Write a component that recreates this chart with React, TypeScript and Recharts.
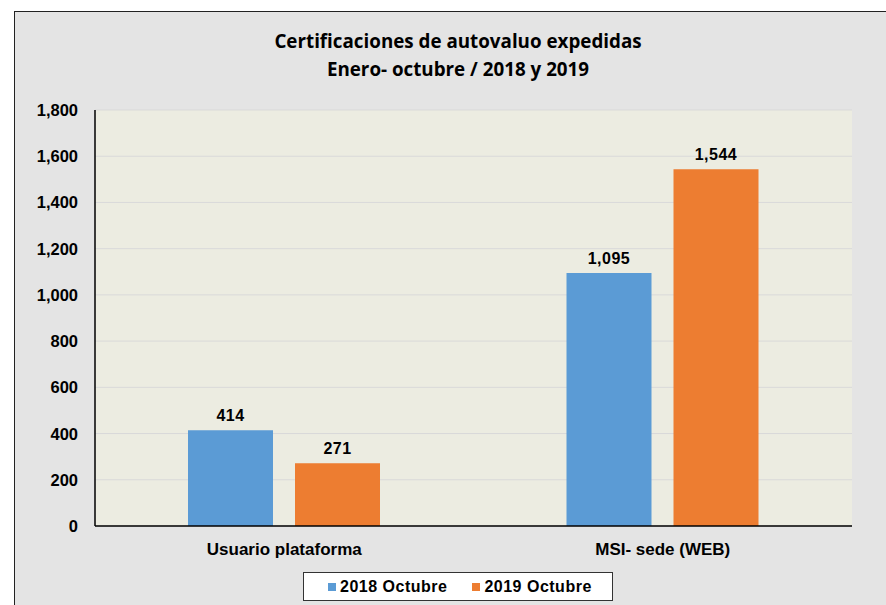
import React from "react";
import { BarChart, Bar, XAxis, YAxis, CartesianGrid, Legend, LabelList } from "recharts";

const categories = ["Usuario plataforma", "MSI- sede (WEB)"];
const series2018 = [414, 1095];
const series2019 = [271, 1544];
const yTicks = [0, 200, 400, 600, 800, 1000, 1200, 1400, 1600, 1800];
const seriesNames = ["2018 Octubre", "2019 Octubre"];
const titleLines = ["Certificaciones de autovaluo expedidas", "Enero- octubre / 2018 y 2019"];

const data = categories.map((c, i) => ({ name: c, a: series2018[i], b: series2019[i] }));

const fmt = (v: number) => v.toLocaleString("en-US");
const BLUE = "#5b9bd5";
const ORANGE = "#ed7d31";
const FONT = "'Liberation Sans', Arial, sans-serif";

const LegendBox = () => (
  <div
    style={{
      position: "absolute",
      left: 288,
      top: 2,
      width: 308,
      height: 27,
      background: "#ffffff",
      border: "1px solid #333",
      display: "flex",
      alignItems: "center",
      fontFamily: FONT,
      fontWeight: 700,
      fontSize: 16,
      letterSpacing: 0.5,
      color: "#000",
    }}
  >
    <span style={{ display: "inline-block", width: 8, height: 8, background: BLUE, marginLeft: 24, marginRight: 4 }} />
    <span>{seriesNames[0]}</span>
    <span style={{ display: "inline-block", width: 8, height: 8, background: ORANGE, marginLeft: 25, marginRight: 4 }} />
    <span>{seriesNames[1]}</span>
  </div>
);

const XTick = (props: any) => {
  const { x, y, payload } = props;
  return (
    <text
      x={x}
      y={y + 29}
      textAnchor="middle"
      fill="#000"
      fontFamily={FONT}
      fontWeight={700}
      fontSize={17}
    >
      {payload.value}
    </text>
  );
};

const YTick = (props: any) => {
  const { x, y, payload } = props;
  return (
    <text
      x={x - 17}
      y={y + 6}
      textAnchor="end"
      fill="#000"
      fontFamily={FONT}
      fontWeight={700}
      fontSize={16.5}
    >
      {fmt(payload.value)}
    </text>
  );
};

const labelStyle = { fill: "#000", fontFamily: FONT, fontWeight: 700, fontSize: 16, letterSpacing: "0.5px" };

export default function App() {
  return (
    <div style={{ position: "fixed", left: 0, top: 0, width: 886, height: 605, overflow: "hidden", background: "#fff" }}>
      <div
        style={{
          position: "absolute",
          left: 14,
          top: 11,
          width: 900,
          height: 620,
          border: "1px solid #222",
          background: "#e4e4e4",
        }}
      >
        <div
          style={{
            position: "absolute",
            left: 0,
            top: 15,
            width: 886,
            textAlign: "center",
            fontFamily: "'Open Sans', sans-serif",
            fontWeight: 700,
            fontSize: 18.8,
            lineHeight: "28px",
            color: "#000",
          }}
        >
          <div>{titleLines[0]}</div>
          <div>{titleLines[1]}</div>
        </div>
        <BarChart
          width={871}
          height={593}
          data={data}
          margin={{ top: 98, right: 34, bottom: 0, left: 0 }}
          barSize={85}
          barGap={22}
        >
          <CartesianGrid vertical={false} stroke="#d9d9d9" fill="#ecece1" />
          <XAxis
            dataKey="name"
            height={44}
            tickLine={false}
            tickSize={0}
            tickMargin={0}
            axisLine={{ stroke: "#000", strokeWidth: 1.5 }}
            tick={<XTick />}
          />
          <YAxis
            width={80}
            domain={[0, 1800]}
            ticks={yTicks}
            interval={0}
            tickLine={false}
            tickSize={0}
            tickMargin={0}
            axisLine={{ stroke: "#000", strokeWidth: 1.5 }}
            tick={<YTick />}
          />
          <Legend
            verticalAlign="bottom"
            content={() => <LegendBox />}
            wrapperStyle={{ left: 0, width: 871, height: 35, bottom: 0 }}
          />
          <Bar dataKey="a" name={seriesNames[0]} fill={BLUE} isAnimationActive={false}>
            <LabelList dataKey="a" position="top" offset={9} formatter={(v: any) => fmt(Number(v))} style={labelStyle} />
          </Bar>
          <Bar dataKey="b" name={seriesNames[1]} fill={ORANGE} isAnimationActive={false}>
            <LabelList dataKey="b" position="top" offset={9} formatter={(v: any) => fmt(Number(v))} style={labelStyle} />
          </Bar>
        </BarChart>
      </div>
    </div>
  );
}
